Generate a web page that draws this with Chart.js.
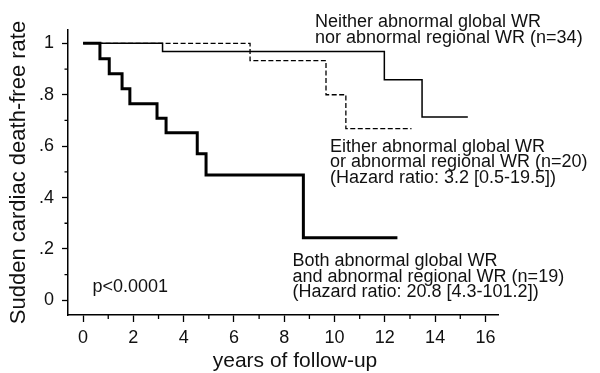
<!DOCTYPE html>
<html>
<head>
<meta charset="utf-8">
<script src="https://cdn.jsdelivr.net/npm/chart.js@4.4.0/dist/chart.umd.min.js"></script>
<style>
html, body { margin: 0; padding: 0; background: #fff; }
#wrap { width: 600px; height: 373px; }
</style>
</head>
<body>
<div id="wrap"><canvas id="kmChart" width="600" height="373"></canvas></div>
<script>
// Kaplan-Meier curves (event times in years, survival after each step)
const neitherYears = [0, 3.16, 11.98, 13.48, 15.3];
const neitherRate  = [1, 0.968, 0.858, 0.713, 0.713];

const eitherYears = [0, 6.64, 9.66, 10.45, 13.06];
const eitherRate  = [1, 0.933, 0.80, 0.668, 0.668];

const bothYears = [0, 0.67, 1.04, 1.55, 1.86, 2.94, 3.3, 4.54, 4.89, 8.76, 12.5];
const bothRate  = [1, 0.94, 0.882, 0.823, 0.765, 0.709, 0.652, 0.57, 0.488, 0.244, 0.244];

const xTicks = [0, 2, 4, 6, 8, 10, 12, 14, 16];
const xMinorTicks = [1, 3, 5, 7, 9, 11, 13, 15];
const yTicks = [0, 0.2, 0.4, 0.6, 0.8, 1];
const yTickLabels = ['0', '.2', '.4', '.6', '.8', '1'];
const yMinorTicks = [0.1, 0.3, 0.5, 0.7, 0.9];

const FONT = '"Liberation Sans", Arial, Helvetica, sans-serif';

function toPoints(xs, ys) {
    return xs.map((x, i) => ({ x: x, y: ys[i] }));
}

// minor tick marks, curve annotations and x axis title
const extras = {
    id: 'extras',
    afterDraw(chart) {
        const ctx = chart.ctx;
        const xs = chart.scales.x;
        const ys = chart.scales.y;
        ctx.save();
        ctx.strokeStyle = '#000';
        ctx.lineWidth = 1.3;
        ctx.beginPath();
        xMinorTicks.forEach(v => {
            const px = xs.getPixelForValue(v);
            ctx.moveTo(px, xs.top);
            ctx.lineTo(px, xs.top + 4);
        });
        yMinorTicks.forEach(v => {
            const py = ys.getPixelForValue(v);
            ctx.moveTo(ys.right, py);
            ctx.lineTo(ys.right - 3.5, py);
        });
        ctx.stroke();

        ctx.fillStyle = '#111';
        ctx.textAlign = 'left';
        ctx.textBaseline = 'alphabetic';
        ctx.font = '18px ' + FONT;
        const blocks = [
            [315, 27, ['Neither abnormal global WR', 'nor abnormal regional WR (n=34)']],
            [330, 151.5, ['Either abnormal global WR', 'or abnormal regional WR (n=20)', '(Hazard ratio: 3.2 [0.5-19.5])']],
            [292.5, 266, ['Both abnormal global WR', 'and abnormal regional WR (n=19)', '(Hazard ratio: 20.8 [4.3-101.2])']],
            [92.5, 291.5, ['p<0.0001']]
        ];
        blocks.forEach(([x, y, lines]) => {
            lines.forEach((t, i) => ctx.fillText(t, x, y + i * 15.5));
        });

        ctx.font = '21px ' + FONT;
        ctx.textAlign = 'center';
        ctx.fillText('years of follow-up', 295, 367);
        ctx.restore();
    }
};

const kmChart = new Chart(document.getElementById('kmChart'), {
    type: 'line',
    data: {
        datasets: [{
            label: 'Neither',
            data: toPoints(neitherYears, neitherRate),
            borderColor: '#000',
            borderWidth: 1.5,
            stepped: 'before',
            pointRadius: 0,
            fill: false
        }, {
            label: 'Either',
            data: toPoints(eitherYears, eitherRate),
            borderColor: '#000',
            borderWidth: 1.3,
            borderDash: [5, 2.5],
            stepped: 'before',
            pointRadius: 0,
            fill: false
        }, {
            label: 'Both',
            data: toPoints(bothYears, bothRate),
            borderColor: '#000',
            borderWidth: 3,
            stepped: 'before',
            pointRadius: 0,
            fill: false
        }]
    },
    options: {
        responsive: false,
        animation: false,
        devicePixelRatio: 1,
        layout: { padding: { top: 30, right: 102, bottom: 0, left: 0 } },
        plugins: {
            legend: { display: false },
            tooltip: { enabled: false }
        },
        scales: {
            x: {
                type: 'linear',
                min: -0.6,
                max: 16.5,
                afterBuildTicks: s => { s.ticks = xTicks.map(v => ({ value: v })); },
                afterFit: s => { s.height = 58; },
                grid: {
                    drawOnChartArea: false,
                    drawTicks: true,
                    tickLength: 7,
                    tickColor: '#000',
                    tickWidth: 1.3
                },
                border: { display: true, color: '#000', width: 1.5 },
                ticks: {
                    color: '#111',
                    font: { family: FONT, size: 18 },
                    padding: 5,
                    maxRotation: 0,
                    autoSkip: false
                },
                title: { display: false }
            },
            y: {
                type: 'linear',
                min: -0.057,
                max: 1.052,
                afterBuildTicks: s => { s.ticks = yTicks.map(v => ({ value: v })); },
                afterFit: s => { s.width = 68; },
                grid: {
                    drawOnChartArea: false,
                    drawTicks: true,
                    tickLength: 6,
                    tickColor: '#000',
                    tickWidth: 1.3
                },
                border: { display: true, color: '#000', width: 1.5 },
                ticks: {
                    color: '#111',
                    font: { family: FONT, size: 18 },
                    padding: 8,
                    autoSkip: false,
                    callback: (v, i) => yTickLabels[i]
                },
                title: {
                    display: true,
                    text: 'Sudden cardiac death-free rate',
                    color: '#111',
                    font: { family: FONT, size: 22 },
                    padding: { top: 6, bottom: 0 }
                }
            }
        }
    },
    plugins: [extras]
});
</script>
</body>
</html>
